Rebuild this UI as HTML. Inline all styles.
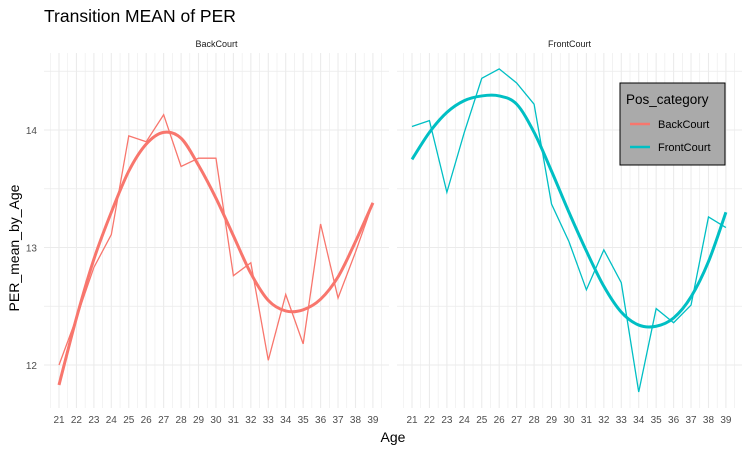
<!DOCTYPE html>
<html><head><meta charset="utf-8"><style>
body{margin:0;background:#fff;font-family:"Liberation Sans",sans-serif;}
</style></head><body>
<svg id="c" width="750" height="450" xmlns="http://www.w3.org/2000/svg" font-family="Liberation Sans, sans-serif">
<text x="44" y="22" font-size="17.5" fill="#000">Transition MEAN of PER</text>
<text x="393" y="442" font-size="14" text-anchor="middle" fill="#000">Age</text>
<text transform="translate(19,248) rotate(-90)" font-size="14" text-anchor="middle" fill="#000">PER_mean_by_Age</text>
<g id="plots"></g>
<g>
<rect x="620" y="83" width="105" height="82" fill="#aaaaaa" stroke="#000" stroke-width="1"/>
<text x="626" y="104" font-size="13.5" fill="#000">Pos_category</text>
<line x1="630" y1="124" x2="650" y2="124" stroke="#F8766D" stroke-width="2.5"/>
<text x="658" y="128" font-size="11" fill="#000">BackCourt</text>
<line x1="630" y1="147" x2="650" y2="147" stroke="#00BFC4" stroke-width="2.5"/>
<text x="658" y="151" font-size="11" fill="#000">FrontCourt</text>
</g>
</svg>
<script>
const ages=[21,22,23,24,25,26,27,28,29,30,31,32,33,34,35,36,37,38,39];
const backRaw=[12.0,12.4,12.83,13.11,13.95,13.9,14.13,13.69,13.76,13.76,12.76,12.87,12.04,12.6,12.18,13.2,12.57,12.96,13.38];
const backSmooth=[11.83,12.4,12.9,13.3,13.65,13.88,13.98,13.93,13.7,13.42,13.1,12.78,12.55,12.46,12.47,12.56,12.75,13.05,13.38];
const frontRaw=[14.03,14.08,13.47,13.98,14.44,14.52,14.4,14.22,13.37,13.05,12.64,12.98,12.7,11.77,12.48,12.36,12.51,13.26,13.17];
const frontSmooth=[13.75,13.98,14.15,14.25,14.29,14.29,14.22,13.98,13.65,13.3,12.97,12.67,12.45,12.34,12.33,12.4,12.58,12.88,13.3];
const yTicks=[12,13,14];
const panels=[{name:"BackCourt",left:44,raw:backRaw,smooth:backSmooth,color:"#F8766D"},
              {name:"FrontCourt",left:397,raw:frontRaw,smooth:frontSmooth,color:"#00BFC4"}];
const NS="http://www.w3.org/2000/svg";
const topY=53,bottomY=408,W=345;
function y(v){return 365-(v-12)*117.5;}
const g=document.getElementById('plots');
function mk(t,a,p){const e=document.createElementNS(NS,t);for(const k in a)e.setAttribute(k,a[k]);(p||g).appendChild(e);return e;}
panels.forEach((p,pi)=>{
  const x=a=>p.left+15+(a-21)*17.44;
  const pg=mk('g',{});
  
  
  [12.5,13.5,14.5].forEach(v=>{mk('line',{x1:p.left,x2:p.left+W,y1:y(v),y2:y(v),stroke:'#ebebeb','stroke-width':0.7},pg);});
  yTicks.forEach(v=>{mk('line',{x1:p.left,x2:p.left+W,y1:y(v),y2:y(v),stroke:'#ebebeb','stroke-width':1.1},pg);});
  for(let a=20.5;a<=39.5;a+=0.5){mk('line',{x1:x(a),x2:x(a),y1:topY,y2:bottomY,stroke:'#ebebeb','stroke-width':a%1===0?1.1:0.6},pg);}
  const st=mk('text',{x:p.left+W/2,y:47,'font-size':9,'text-anchor':'middle',fill:'#1a1a1a'},pg);st.textContent=p.name;
  
  
  ages.forEach(a=>{const t=mk('text',{x:x(a),y:423,'font-size':10,'text-anchor':'middle',fill:'#4d4d4d'},pg);t.textContent=a;
    
    });
  if(pi===0){yTicks.forEach(v=>{const t=mk('text',{x:37,y:y(v)+4,'font-size':10,'text-anchor':'end',fill:'#4d4d4d'},pg);t.textContent=v;
    
    });}
  const rl=mk('polyline',{points:ages.map((a,i)=>x(a)+','+y(p.raw[i])).join(' '),fill:'none',stroke:p.color,'stroke-width':1.3},pg);
  
  
  const pts=ages.map((a,i)=>[x(a),y(p.smooth[i])]);
  let d='M'+pts[0][0]+','+pts[0][1];
  for(let i=0;i<pts.length-1;i++){const p0=pts[Math.max(0,i-1)],p1=pts[i],p2=pts[i+1],p3=pts[Math.min(pts.length-1,i+2)];
    d+=' C'+(p1[0]+(p2[0]-p0[0])/6)+','+(p1[1]+(p2[1]-p0[1])/6)+' '+(p2[0]-(p3[0]-p1[0])/6)+','+(p2[1]-(p3[1]-p1[1])/6)+' '+p2[0]+','+p2[1];}
  const sl=mk('path',{d:d,fill:'none',stroke:p.color,'stroke-width':3},pg);
  
  
});
</script>
</body></html>
